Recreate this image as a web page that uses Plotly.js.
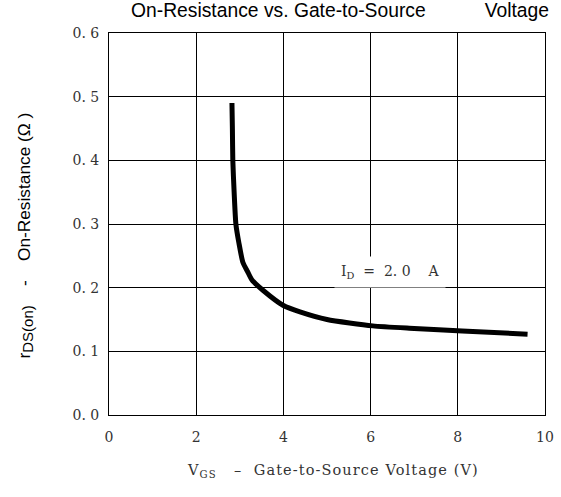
<!DOCTYPE html>
<html><head><meta charset="utf-8">
<script src="https://cdn.plot.ly/plotly-3.0.1.min.js"></script>
<style>body{margin:0;background:#fff}#c{width:561px;height:497px}</style>
</head><body><div id="c"></div>
<script>
const vgs = [2.82, 2.83, 2.84, 2.87, 2.91, 2.98, 3.07, 3.18, 3.28, 3.53, 4.0, 4.38, 5.0, 6.05, 7.0, 8.1, 9.6];
const rds = [0.49, 0.45, 0.40, 0.35, 0.30, 0.27, 0.24, 0.225, 0.212, 0.196, 0.172, 0.162, 0.150, 0.140, 0.136, 0.132, 0.127];
const xTicks = [0, 2, 4, 6, 8, 10];
const xTickText = ["0", "2", "4", "6", "8", "10"];
const yTicks = [0, 0.1, 0.2, 0.3, 0.4, 0.5, 0.6];
const yTickText = ["0. 0", "0. 1", "0. 2", "0. 3", "0. 4", "0. 5", "0. 6"];
const serif = "DejaVu Serif, Liberation Serif, serif";
const sans = "Liberation Sans, Arial, sans-serif";
Plotly.newPlot('c', [{
  x: vgs, y: rds, mode: 'lines', line: {color: '#000', width: 5, shape: 'spline', smoothing: 0.6},
  hoverinfo: 'skip', showlegend: false
}], {
  width: 561, height: 497,
  margin: {l: 109, r: 16, t: 33, b: 82},
  paper_bgcolor: '#fff', plot_bgcolor: '#fff',
  title: {text: 'On-Resistance vs. Gate-to-Source           Voltage', font: {family: sans, size: 19.3, color: '#000'},
          x: 340/561, xref: 'container', xanchor: 'center', y: 1, yanchor: 'top', pad: {t: 3}},
  xaxis: {range: [0, 10], tickvals: xTicks, ticktext: xTickText, showgrid: true, gridcolor: '#000', gridwidth: 1,
          zeroline: false, showline: true, linecolor: '#000', linewidth: 1, mirror: true, ticks: '',
          tickfont: {family: serif, size: 14, color: '#333'}, ticklabelstandoff: 9},
  yaxis: {range: [0, 0.6], tickvals: yTicks, ticktext: yTickText, showgrid: true, gridcolor: '#000', gridwidth: 1,
          zeroline: false, showline: true, linecolor: '#000', linewidth: 1, mirror: true, ticks: '',
          tickfont: {family: serif, size: 14, color: '#333'}, ticklabelstandoff: 6},
  annotations: [
    {x: 6.45, y: 0.2245, xref: 'x', yref: 'y', text: 'I<sub>D</sub>  =  2. 0    A', showarrow: false,
     font: {family: serif, size: 14, color: '#333'}, bgcolor: '#fff', borderpad: 6},
    {x: -97/436, y: (415-236)/382, xref: 'paper', yref: 'paper', textangle: -90, showarrow: false,
     text: 'r<sub><span style="font-size:15px">DS(on)</span></sub>    -    On-Resistance (Ω )',
     font: {family: sans, size: 17.3, color: '#000'}},
    {x: (333-109)/436, y: (415-482)/382, xref: 'paper', yref: 'paper', showarrow: false,
     text: '<span style="letter-spacing:1.1px">V<sub>GS</sub>   –  Gate-to-Source Voltage (V)</span>',
     font: {family: serif, size: 14.5, color: '#333'}}
  ]
}, {staticPlot: true});
</script></body></html>
